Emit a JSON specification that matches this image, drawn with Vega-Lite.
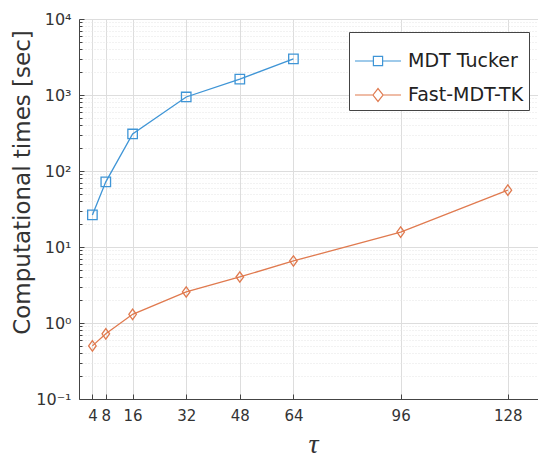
{
  "$schema": "https://vega.github.io/schema/vega-lite/v6.json",
  "autosize": "none",
  "width": 459,
  "height": 380,
  "padding": {"left": 79, "top": 19, "right": 0, "bottom": 57},
  "background": "white",
  "config": {
    "font": "DejaVu Sans",
    "view": {"stroke": null},
    "axis": {"labelFont": "DejaVu Sans", "titleFont": "DejaVu Sans", "labelColor": "#333333", "titleColor": "#333333"}
  },
  "data": {
    "values": [
      {"tau": 4, "time": 26.4, "method": "MDT Tucker"},
      {"tau": 8, "time": 72, "method": "MDT Tucker"},
      {"tau": 16, "time": 307, "method": "MDT Tucker"},
      {"tau": 32, "time": 942, "method": "MDT Tucker"},
      {"tau": 48, "time": 1620, "method": "MDT Tucker"},
      {"tau": 64, "time": 2980, "method": "MDT Tucker"},
      {"tau": 4, "time": 0.5, "method": "Fast-MDT-TK"},
      {"tau": 8, "time": 0.72, "method": "Fast-MDT-TK"},
      {"tau": 16, "time": 1.3, "method": "Fast-MDT-TK"},
      {"tau": 32, "time": 2.56, "method": "Fast-MDT-TK"},
      {"tau": 48, "time": 4.03, "method": "Fast-MDT-TK"},
      {"tau": 64, "time": 6.55, "method": "Fast-MDT-TK"},
      {"tau": 96, "time": 15.7, "method": "Fast-MDT-TK"},
      {"tau": 128, "time": 56, "method": "Fast-MDT-TK"}
    ]
  },
  "encoding": {
    "x": {
      "field": "tau", "type": "quantitative",
      "scale": {"domain": [0, 137], "nice": false, "zero": false},
      "axis": {
        "values": [4, 8, 16, 32, 48, 64, 96, 128],
        "title": "τ",
        "titleFont": "Liberation Serif",
        "titleFontStyle": "italic",
        "titleFontWeight": "normal",
        "titleFontSize": 28,
        "titleBaseline": "alphabetic",
        "titleY": 53,
        "titleX": 234,
        "labelFontSize": 15,
        "labelPadding": 14,
        "labelFlush": false,
        "labelOverlap": false,
        "grid": true,
        "gridColor": "#dddddd",
        "gridWidth": 1,
        "domainColor": "#444444",
        "tickColor": "#444444",
        "tickSize": -5,
        "labelColor": "#333333"
      }
    },
    "y": {
      "field": "time", "type": "quantitative",
      "scale": {"type": "log", "domain": [0.1, 10000], "nice": false},
      "axis": {
        "values": [0.1,0.2,0.3,0.4,0.5,0.6,0.7,0.8,0.9,1,2,3,4,5,6,7,8,9,10,20,30,40,50,60,70,80,90,100,200,300,400,500,600,700,800,900,1000,2000,3000,4000,5000,6000,7000,8000,9000,10000],
        "labelExpr": "abs(log(datum.value)/LN10 - round(log(datum.value)/LN10)) < 1e-6 ? '10' + ['⁻¹','⁰','¹','²','³','⁴'][round(log(datum.value)/LN10)+1] : ''",
        "labelFontSize": 16,
        "labelPadding": 13,
        "labelOverlap": false,
        "labelFlush": false,
        "title": "Computational times [sec]",
        "titleFontSize": 23,
        "titleFontWeight": "normal",
        "titleX": -57,
        "titleY": 163,
        "titleAngle": -90,
        "titleAlign": "center",
        "titleBaseline": "middle",
        "grid": true,
        "gridColor": {"condition": {"test": "abs(log(datum.value)/LN10 - round(log(datum.value)/LN10)) < 1e-6", "value": "#dddddd"}, "value": "#e4e4e4"},
        "gridDash": {"condition": {"test": "abs(log(datum.value)/LN10 - round(log(datum.value)/LN10)) < 1e-6", "value": []}, "value": [1, 2]},
        "tickSize": {"condition": {"test": "abs(log(datum.value)/LN10 - round(log(datum.value)/LN10)) < 1e-6", "value": -5}, "value": -3},
        "domainColor": "#444444",
        "tickColor": "#444444"
      }
    },
    "color": {
      "field": "method", "type": "nominal",
      "sort": ["MDT Tucker", "Fast-MDT-TK"],
      "scale": {"domain": ["MDT Tucker", "Fast-MDT-TK"], "range": ["#3f95d6", "#e07a4f"]},
      "legend": {
        "title": null,
        "orient": "none",
        "legendX": 270,
        "legendY": 13,
        "direction": "vertical",
        "fillColor": "white",
        "strokeColor": "#444444",
        "padding": 5,
        "labelFont": "DejaVu Sans",
        "labelFontSize": 19,
        "labelColor": "#222222",
        "labelOffset": 6,
        "symbolSize": 2116,
        "symbolStrokeWidth": 1.2,
        "rowPadding": -21,
        "encode": {
          "symbols": {
            "update": {
              "shape": {"signal": "datum.value === 'MDT Tucker' ? 'M-1,0H-0.2M0.2,0H1M-0.2,-0.2H0.2V0.2H-0.2Z' : 'M-1,0H-0.22M0.22,0H1M-0.22,0L0,-0.28L0.22,0L0,0.28Z'"},
              "fill": {"value": "transparent"},
              "strokeWidth": {"value": 1.2}
            }
          }
        }
      }
    }
  },
  "layer": [
    {"mark": {"type": "line", "strokeWidth": 1.3}},
    {
      "mark": {"type": "point", "filled": false, "strokeWidth": 1.3, "opacity": 1},
      "encoding": {
        "shape": {"condition": {"test": "datum.method === 'MDT Tucker'", "value": "square"}, "value": "M-0.8,0L0,-1.1L0.8,0L0,1.1Z"},
        "size": {"value": 90}
      }
    }
  ]
}
